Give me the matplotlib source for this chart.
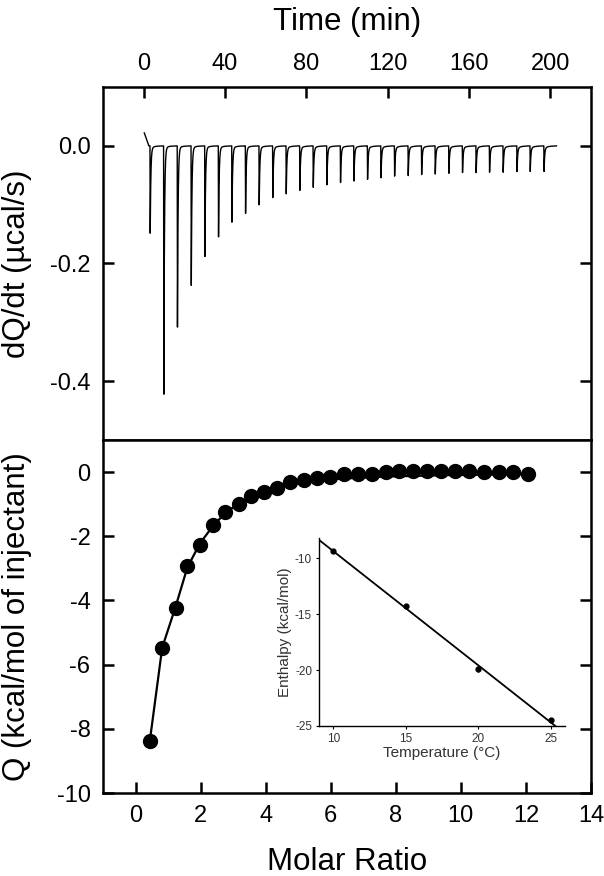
import numpy as np
import matplotlib
matplotlib.use('Agg')
import matplotlib.pyplot as plt

plt.rcParams['font.family'] = ['Liberation Sans', 'DejaVu Sans']
plt.rcParams['axes.unicode_minus'] = False

# raw thermogram: injection times (min) and peak minima (ucal/s)
inj_time = [3.1, 9.8, 16.5, 23.3, 30.0, 36.7, 43.3, 50.0, 56.7, 63.4,
            70.0, 76.7, 83.3, 90.0, 96.7, 103.3, 110.0, 116.6, 123.3, 130.0,
            136.6, 143.3, 150.0, 156.7, 163.4, 170.0, 176.7, 183.5, 190.0, 196.8]
peak_depth = [-0.149, -0.426, -0.310, -0.239, -0.189, -0.155, -0.129, -0.114, -0.100, -0.088,
              -0.081, -0.075, -0.070, -0.066, -0.062, -0.059, -0.056, -0.054, -0.051, -0.050,
              -0.048, -0.047, -0.046, -0.045, -0.045, -0.044, -0.044, -0.043, -0.043, -0.043]
trace_start = 0.3
trace_end = 203.0
start_offset = 0.022

# integrated heats
molar_ratio = [0.44, 0.82, 1.23, 1.59, 1.98, 2.38, 2.76, 3.17, 3.56, 3.96,
               4.36, 4.75, 5.19, 5.58, 5.99, 6.42, 6.83, 7.26, 7.69, 8.11,
               8.53, 8.97, 9.40, 9.83, 10.26, 10.70, 11.16, 11.59, 12.05]
heat = [-8.37, -5.47, -4.25, -2.93, -2.26, -1.66, -1.25, -0.98, -0.74, -0.62,
        -0.50, -0.32, -0.24, -0.19, -0.16, -0.06, -0.06, -0.05, -0.01, 0.02,
        0.02, 0.04, 0.04, 0.04, 0.02, 0.01, 0.0, 0.0, -0.06]
heat_fit = [-8.37, -5.47, -4.20, -2.98, -2.22, -1.68, -1.27, -0.98, -0.76, -0.60,
            -0.48, -0.39, -0.32, -0.27, -0.23, -0.20, -0.18, -0.16, -0.14, -0.13,
            -0.12, -0.11, -0.10, -0.09, -0.09, -0.08, -0.08, -0.07, -0.07]

# inset: enthalpy vs temperature
temp_c = [10, 15, 20, 25]
enthalpy = [-9.4, -14.3, -19.9, -24.5]
enthalpy_err = [0.15, 0.15, 0.3, 0.2]

# build the trace from the injection list
t = np.linspace(trace_start, trace_end, 40000)
dq = start_offset * np.clip(1 - (t - trace_start) / 2.2, 0, 1)
for ti, d in zip(inj_time, peak_depth):
    s = t - ti
    rise = np.clip(s / 0.12, 0, 1)
    shape = np.where(s < 0.12, rise, np.exp(-(s - 0.12) / 0.3))
    shape = np.where(s < 0, 0, shape)
    tail = np.where(s > 0, np.exp(-s / 2.0) * (1 - np.exp(-s / 0.5)), 0)
    dq += d * shape - 0.004 * tail

fig = plt.figure(figsize=(6.04, 8.76), dpi=100)
W, H = 604, 876
ax1 = fig.add_axes([103 / W, 1 - 440 / H, 488 / W, 353 / H])
ax2 = fig.add_axes([103 / W, 1 - 793 / H, 488 / W, 353 / H])

lab_fs = 22.5
tick_fs = 17

for ax in (ax1, ax2):
    for sp in ax.spines.values():
        sp.set_linewidth(1.8)
    ax.tick_params(direction='in', length=8, width=1.8, labelsize=tick_fs, pad=9)

# top panel
ax1.plot(t, dq, color='black', lw=1.0)
ax1.set_xlim(-20, 220)
ax1.set_ylim(-0.5, 0.1)
ax1.set_xticks([0, 40, 80, 120, 160, 200])
ax1.set_yticks([0.0, -0.2, -0.4])
ax1.set_yticklabels(['0.0', '-0.2', '-0.4'])
ax1.xaxis.set_ticks_position('top')
ax1.xaxis.set_label_position('top')
ax1.tick_params(top=True, bottom=False, left=True, right=True,
                labeltop=True, labelbottom=False)
ax1.set_xlabel('Time (min)', fontsize=lab_fs, labelpad=16)
ax1.set_ylabel('dQ/dt (µcal/s)', fontsize=lab_fs, labelpad=8)

# bottom panel
ax2.plot(molar_ratio, heat_fit, color='black', lw=1.6, zorder=2)
ax2.plot(molar_ratio, heat, 'o', color='black', ms=10, zorder=3)
ax2.set_xlim(-1, 14)
ax2.set_ylim(-10, 1)
ax2.set_xticks(range(0, 15, 2))
ax2.set_yticks(range(-10, 1, 2))
ax2.tick_params(top=False, bottom=True, left=True, right=True)
ax2.set_xlabel('Molar Ratio', fontsize=lab_fs, labelpad=14)
ax2.set_ylabel('Q (kcal/mol of injectant)', fontsize=lab_fs, labelpad=8)
ax1.yaxis.set_label_coords(-0.145, 0.5)
ax2.yaxis.set_label_coords(-0.145, 0.5)

# inset
axi = fig.add_axes([319 / W, 1 - 726 / H, 246 / W, 188 / H])
axi.set_facecolor('none')
slope, icpt = np.polyfit(temp_c, enthalpy, 1)
xf = np.array([9.0, 25.4])
axi.plot(xf, slope * xf + icpt, color='black', lw=1.3)
axi.errorbar(temp_c, enthalpy, yerr=enthalpy_err, fmt='o', color='black',
             ms=3.5, elinewidth=1, capsize=0)
axi.set_xlim(9, 26)
axi.set_ylim(-25, -8.2)
axi.set_xticks([10, 15, 20, 25])
axi.set_yticks([-10, -15, -20, -25])
for side in ('top', 'right'):
    axi.spines[side].set_visible(False)
for side in ('left', 'bottom'):
    axi.spines[side].set_linewidth(1.0)
axi.tick_params(direction='out', length=2, width=0.8, labelsize=8.5,
                labelcolor='#333333', pad=3)
axi.set_xlabel('Temperature (°C)', fontsize=11, color='#333333', labelpad=1)
axi.set_ylabel('Enthalpy (kcal/mol)', fontsize=11, color='#333333', labelpad=2)

fig.savefig('out.png', dpi=100)
